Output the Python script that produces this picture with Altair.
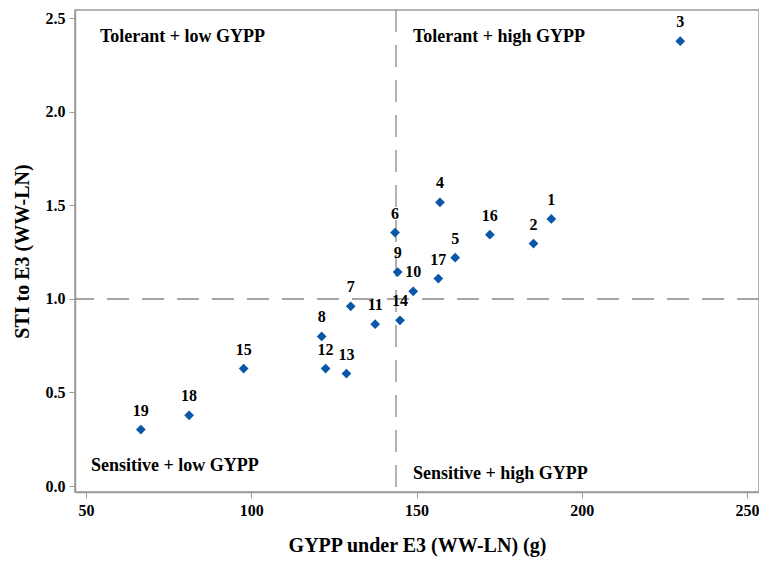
import altair as alt
import pandas as pd

genotypes = ["1", "2", "3", "4", "5", "6", "7", "8", "9", "10",
             "11", "12", "13", "14", "15", "16", "17", "18", "19"]
gypp = [190.8, 185.4, 229.8, 157.1, 161.7, 143.5, 130.1, 121.3, 144.3, 149.0,
        137.5, 122.5, 128.8, 145.0, 97.7, 172.2, 156.6, 81.2, 66.6]
sti = [1.428, 1.296, 2.378, 1.517, 1.221, 1.355, 0.961, 0.800, 1.144, 1.041,
       0.865, 0.628, 0.601, 0.886, 0.628, 1.344, 1.109, 0.378, 0.302]

x_ref = [143.8]
y_ref = [1.0]

quad_labels = ["Tolerant + low GYPP", "Tolerant + high GYPP",
               "Sensitive + low GYPP", "Sensitive + high GYPP"]

x_ticks = [50, 100, 150, 200, 250]
y_ticks = [0.0, 0.5, 1.0, 1.5, 2.0, 2.5]

df = pd.DataFrame({"g": genotypes, "x": gypp, "y": sti})

FONT = "Liberation Serif"
W, H = 684, 482

xs = alt.Scale(domain=[46.67, 253.63], nice=False, zero=False)
ys = alt.Scale(domain=[-0.032, 2.545], nice=False, zero=False)

base = alt.Chart(df)

pts = base.mark_point(shape="diamond", filled=True, size=95, color="#0a56a8", opacity=1).encode(
    x=alt.X("x:Q", scale=xs,
            axis=alt.Axis(title="GYPP under  E3 (WW-LN) (g)", values=x_ticks, format="d",
                          titlePadding=17)),
    y=alt.Y("y:Q", scale=ys,
            axis=alt.Axis(title="STI to E3 (WW-LN)", values=y_ticks, format=".1f",
                          titlePadding=13)),
)

lbl = base.mark_text(font=FONT, fontWeight="bold", fontSize=16, dy=-19, color="black").encode(
    x=alt.X("x:Q", scale=xs), y=alt.Y("y:Q", scale=ys), text="g:N"
)

vline = alt.Chart(pd.DataFrame({"x": x_ref})).mark_rule(
    color="#888888", strokeDash=[22, 13], strokeWidth=1.3
).encode(x=alt.X("x:Q", scale=xs))

hline = alt.Chart(pd.DataFrame({"y": y_ref})).mark_rule(
    color="#888888", strokeDash=[22, 13], strokeWidth=1.3
).encode(y=alt.Y("y:Q", scale=ys))

qdf = pd.DataFrame({"t": quad_labels,
                    "px": [25, 338, 16, 338],
                    "py": [27, 27, 456, 464]})
quad = alt.Chart(qdf).mark_text(font=FONT, fontSize=18, fontWeight="bold", align="left",
                                baseline="middle", color="black").encode(
    x=alt.X("px:Q", scale=None), y=alt.Y("py:Q", scale=None), text="t:N"
)

chart = alt.layer(vline, hline, pts, lbl, quad).properties(
    width=W, height=H,
    autosize=alt.AutoSizeParams(type="none"),
    padding={"left": 67, "top": 2, "right": 0, "bottom": 66},
).configure_view(
    stroke="#9a9a9a", strokeWidth=1.5
).configure_axis(
    grid=False, domainColor="#9a9a9a", domainWidth=1.5, tickColor="#9a9a9a", tickSize=6,
    labelFont=FONT, labelFontSize=16, labelFontWeight="bold", labelColor="black",
    titleFont=FONT, titleFontSize=20, titleFontWeight="bold", titleColor="black",
    labelPadding=4
).configure_axisX(labelFlush=False)

chart.save("out.html", embed_options={"renderer": "svg", "actions": False})
